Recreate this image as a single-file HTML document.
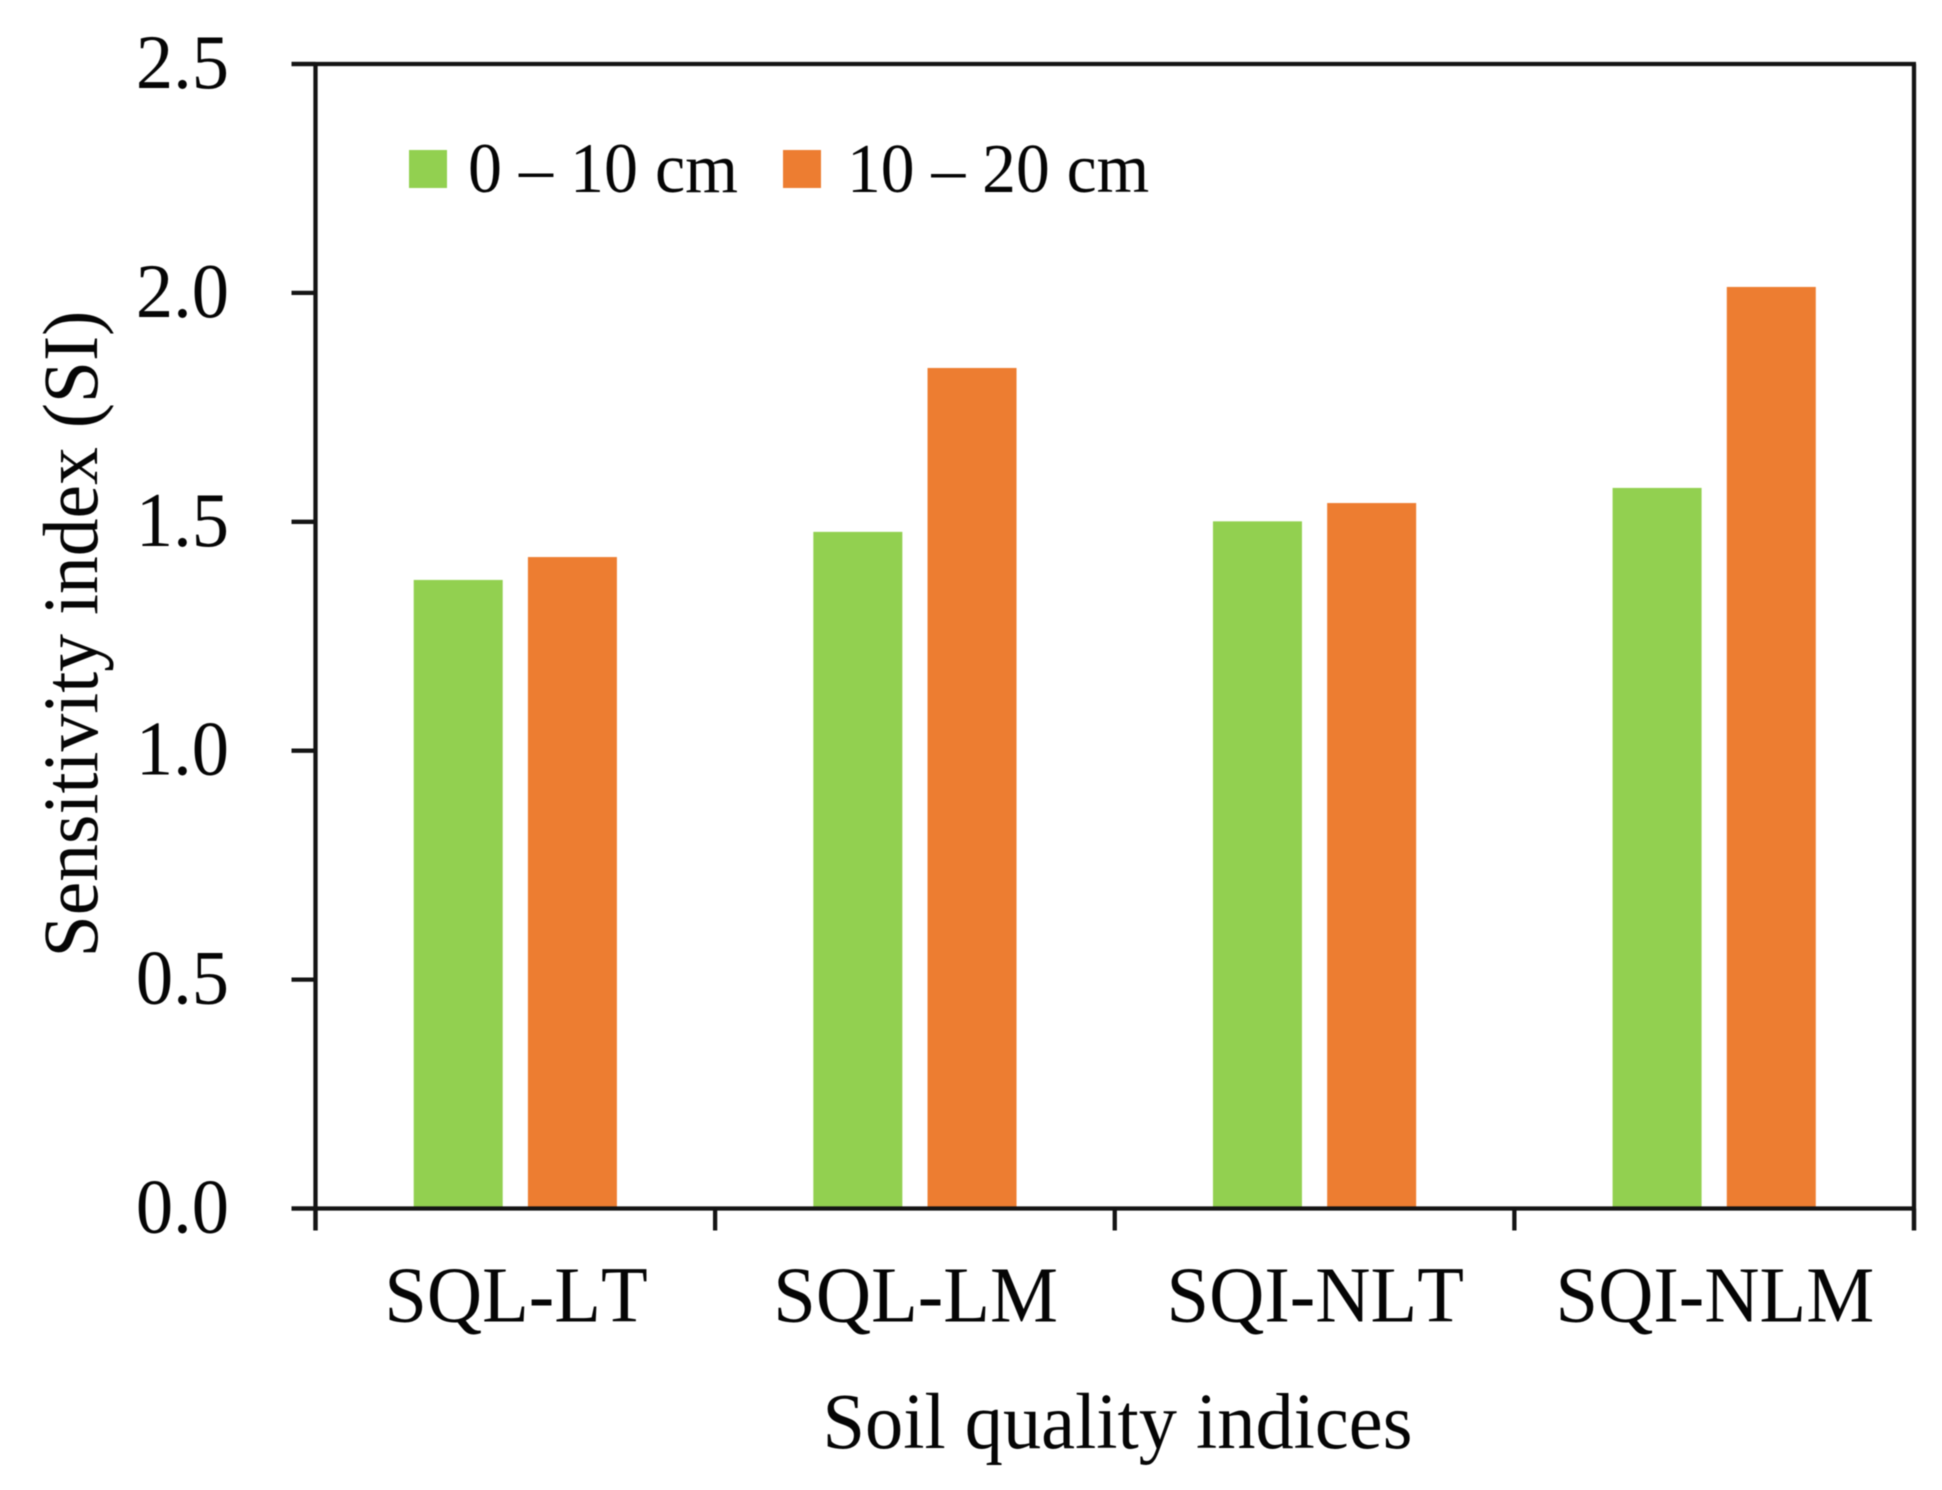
<!DOCTYPE html>
<html lang="en">
<head>
<meta charset="utf-8">
<title>Sensitivity index by soil quality indices</title>
<style>
  html, body { margin: 0; padding: 0; background: #fff; }
  body { width: 1942px; height: 1490px; overflow: hidden; }
  svg { display: block; filter: blur(0.4px); }
  text { font-family: "Liberation Serif", "Times New Roman", serif; fill: #050505; font-kerning: none; }
</style>
</head>
<body>
<svg id="chart" xmlns="http://www.w3.org/2000/svg" width="1942" height="1490" viewBox="0 0 1942 1490"></svg>
<script>
const categories = ["SQL-LT", "SQL-LM", "SQI-NLT", "SQI-NLM"];
const seriesNames = ["0 – 10 cm", "10 – 20 cm"];
const shallowValues = [1.373, 1.478, 1.501, 1.574];
const deepValues = [1.423, 1.836, 1.541, 2.013];
const yTickValues = [0, 0.5, 1, 1.5, 2, 2.5];
const yTickLabels = ["0.0", "0.5", "1.0", "1.5", "2.0", "2.5"];
const yAxisTitleText = "Sensitivity index (SI)";
const xAxisTitleText = "Soil quality indices";

const NS = "http://www.w3.org/2000/svg";
const svg = document.getElementById("chart");
const plotLeft = 315.5, plotRight = 1914, plotTop = 64, plotBottom = 1208.5;
const yMin = 0, yMax = 2.5;
const barWidth = 89, barGap = 25.2;
const axisColor = "#141414", axisWidth = 4.3;
const greenFill = "#92D050", orangeFill = "#ED7D31";

function yScale(v) {
  return plotBottom - (v - yMin) / (yMax - yMin) * (plotBottom - plotTop);
}
function bandEdge(i) {
  return plotLeft + i * (plotRight - plotLeft) / categories.length;
}
function bandCenter(i) {
  return (bandEdge(i) + bandEdge(i + 1)) / 2;
}
function make(tag, props) {
  const el = document.createElementNS(NS, tag);
  for (const key in props) el.setAttribute(key, props[key]);
  svg.appendChild(el);
  return el;
}
function makeLine(x1, y1, x2, y2) {
  return make("line", { x1: x1, y1: y1, x2: x2, y2: y2, stroke: axisColor, "stroke-width": axisWidth });
}
function makeText(content, x, y, size, anchor, rotate) {
  const turn = rotate ? " rotate(-90)" : "";
  const el = make("text", {
    transform: "translate(" + x + " " + y + ")" + turn + " scale(1 1.04)",
    "font-size": size,
    "text-anchor": anchor
  });
  el.textContent = content;
  return el;
}

/* Bars */
categories.forEach(function (name, i) {
  const c = bandCenter(i);
  const top1 = yScale(shallowValues[i]);
  const bar1 = make("rect", { x: c - barGap / 2 - barWidth, y: top1, width: barWidth, height: plotBottom - top1, fill: greenFill });
  
  
  const top2 = yScale(deepValues[i]);
  const bar2 = make("rect", { x: c + barGap / 2, y: top2, width: barWidth, height: plotBottom - top2, fill: orangeFill });
  
  
});

/* Axes frame */
const leftAxis = makeLine(plotLeft, plotTop, plotLeft, plotBottom + 22);


const rightBorder = makeLine(plotRight, plotTop, plotRight, plotBottom + 22);


const topBorder = makeLine(plotLeft - 24, plotTop, plotRight + 2, plotTop);


const bottomAxis = makeLine(plotLeft - 24, plotBottom, plotRight + 2, plotBottom);



/* Y ticks and labels */
yTickValues.forEach(function (v, i) {
  const y = yScale(v);
  const tick = makeLine(plotLeft - 24, y, plotLeft, y);
  
  
  const label = makeText(yTickLabels[i], 229, y + 24, 74.5, "end", false);
  
  
});

/* X ticks and labels */
for (let i = 0; i <= categories.length; i++) {
  const x = bandEdge(i);
  const tick = makeLine(x, plotBottom, x, plotBottom + 22);
  
  
}
categories.forEach(function (name, i) {
  const label = makeText(name, bandCenter(i) + 0.7, 1321.5, 76.5, "middle", false);
  
  
});

/* Axis titles */
const xTitle = makeText(xAxisTitleText, 1117.5, 1448, 76.4, "middle", false);


const yTitle = makeText(yAxisTitleText, 97, 634, 75.6, "middle", true);



/* Legend */
const swatch1 = make("rect", { x: 409, y: 150, width: 38, height: 38, fill: greenFill });


const legendText1 = makeText(seriesNames[0], 468, 192, 68, "start", false);


const swatch2 = make("rect", { x: 783, y: 150, width: 38, height: 38, fill: orangeFill });


const legendText2 = makeText(seriesNames[1], 847, 192, 67.6, "start", false);


</script>
</body>
</html>
